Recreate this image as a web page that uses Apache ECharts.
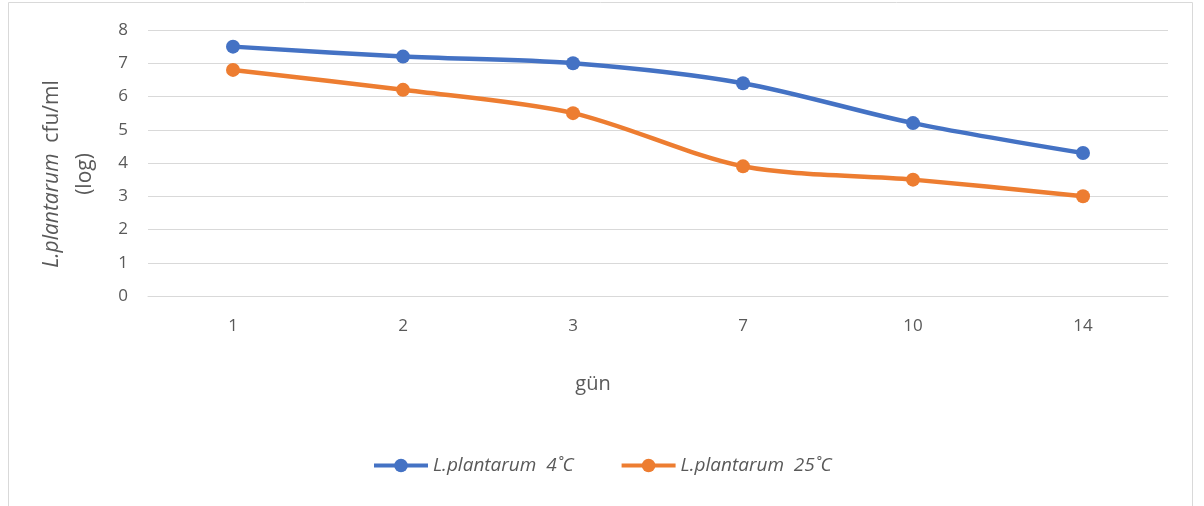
<!DOCTYPE html>
<html>
<head>
<meta charset="utf-8">
<script src="https://cdn.jsdelivr.net/npm/echarts@6/dist/echarts.min.js"></script>
<style>
  html, body { margin: 0; padding: 0; background: #fff; }
  #report { width: 1204px; height: 506px; }
</style>
</head>
<body>
<div id="report"></div>
<script>
// veriler
var gunler = ['1', '2', '3', '7', '10', '14'];
var seri4C = [7.5, 7.2, 7.0, 6.4, 5.2, 4.3];
var seri25C = [6.8, 6.2, 5.5, 3.9, 3.5, 3.0];
var seriAdlari = ['L.plantarum  4˚C', 'L.plantarum  25˚C'];

var myChart = echarts.init(document.getElementById('report'));
var yazi = '"Open Sans", "Noto Sans", sans-serif';

option = {
  graphic: [{
    type: 'rect',
    shape: { x: 8.5, y: 2.5, width: 1184, height: 520 },
    style: { fill: 'none', stroke: '#d9d9d9', lineWidth: 1 },
    silent: true
  }],
  grid: { left: 148, right: 36, top: 30, bottom: 210 },
  legend: {
    top: 451,
    left: 367,
    itemWidth: 54,
    itemHeight: 17,
    itemGap: 46,
    lineStyle: { width: 4 },
    textStyle: { fontFamily: yazi, fontSize: 19, fontStyle: 'italic', color: '#595959' },
    data: seriAdlari
  },
  xAxis: {
    type: 'category',
    data: gunler,
    name: 'gün',
    nameLocation: 'middle',
    nameGap: 78,
    nameTextStyle: { fontFamily: yazi, fontSize: 20, color: '#595959', padding: [0, 130, 0, 0] },
    axisLine: { lineStyle: { color: '#d9d9d9' } },
    axisTick: { show: false },
    axisLabel: { margin: 22, fontFamily: yazi, fontSize: 17, color: '#595959' }
  },
  yAxis: {
    type: 'value',
    min: 0,
    max: 8,
    interval: 1,
    name: '{i|L.plantarum}  cfu/ml\n(log)',
    nameLocation: 'middle',
    nameRotate: 90,
    nameGap: 46,
    nameTextStyle: {
      fontFamily: yazi, fontSize: 21, color: '#595959', lineHeight: 33,
      padding: [0, 22, 0, 0],
      rich: { i: { fontFamily: yazi, fontSize: 21, fontStyle: 'italic', color: '#595959' } }
    },
    axisLine: { show: false },
    axisTick: { show: false },
    splitLine: { lineStyle: { color: '#d9d9d9' } },
    axisLabel: { margin: 20, fontFamily: yazi, fontSize: 17, color: '#595959' }
  },
  series: [
    {
      name: seriAdlari[0],
      type: 'line',
      smooth: 0.3,
      symbol: 'circle',
      symbolSize: 14,
      itemStyle: { color: '#4472c4' },
      lineStyle: { width: 4.5, color: '#4472c4' },
      data: seri4C
    },
    {
      name: seriAdlari[1],
      type: 'line',
      smooth: 0.3,
      symbol: 'circle',
      symbolSize: 14,
      itemStyle: { color: '#ed7d31' },
      lineStyle: { width: 4.5, color: '#ed7d31' },
      data: seri25C
    }
  ]
};

myChart.setOption(option);
</script>
</body>
</html>
